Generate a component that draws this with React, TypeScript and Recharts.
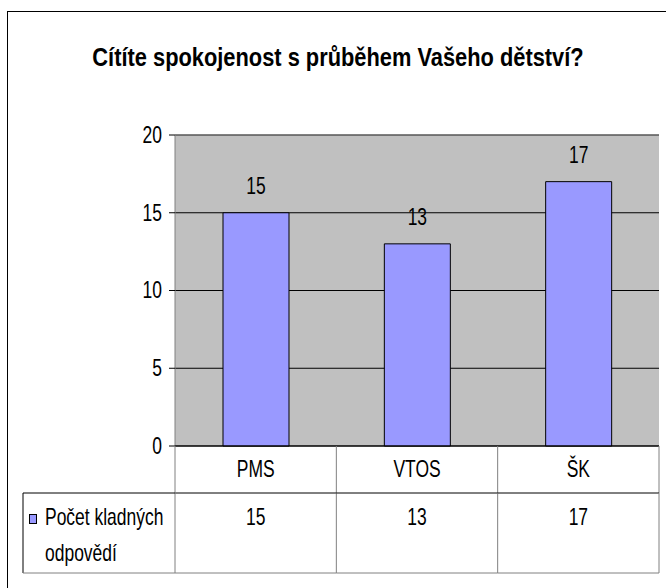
import React from 'react';
import { BarChart, Bar, XAxis, YAxis, CartesianGrid, LabelList, ReferenceLine } from 'recharts';

const title = 'Cítíte spokojenost s průběhem Vašeho dětství?';
const categories = ['PMS', 'VTOS', 'ŠK'];
const values = [15, 13, 17];
const seriesName = ['Počet kladných', 'odpovědí'];
const yTicks = [0, 5, 10, 15, 20];

const data = categories.map((name, i) => ({ name, value: values[i] }));

// layout
const W = 666;
const H = 588;
const PLOT_LEFT = 175;
const PLOT_RIGHT = 659;
const PLOT_BOTTOM = 446;
const ROW1 = 493;
const ROW2 = 573;
const BAND = (PLOT_RIGHT - PLOT_LEFT) / categories.length;
const FONT = "'Liberation Sans', Arial, sans-serif";

const NText = ({ x, y, size = 23, sx = 0.76, anchor = 'middle', weight = 'normal', children }: any) => (
  <text
    transform={`translate(${x},${y}) scale(${sx},1)`}
    textAnchor={anchor}
    dominantBaseline="central"
    fontSize={size}
    fontWeight={weight}
    fontFamily={FONT}
    fill="#000"
  >
    {children}
  </text>
);

const YTick = (p: any) => <NText x={p.x} y={p.y} anchor="end">{p.payload.value}</NText>;

const CatTick = (p: any) => (
  <g>
    <NText x={p.x} y={(PLOT_BOTTOM + ROW1) / 2}>{p.payload.value}</NText>
    <line x1={p.x + BAND / 2} y1={PLOT_BOTTOM} x2={p.x + BAND / 2} y2={ROW1} stroke="#808080" />
  </g>
);

const ValTick = (p: any) => (
  <g>
    <line x1={p.x - BAND / 2} y1={ROW1} x2={p.x + BAND / 2} y2={ROW1} stroke="#000" />
    <line x1={p.x - BAND / 2} y1={ROW2} x2={p.x + BAND / 2} y2={ROW2} stroke="#808080" />
    <line x1={p.x + BAND / 2} y1={ROW1} x2={p.x + BAND / 2} y2={ROW2} stroke="#808080" />
    <NText x={p.x} y={517}>{data[p.index].value}</NText>
  </g>
);

const BarLabel = (p: any) => <NText x={p.x + p.width / 2} y={p.y - 27}>{p.value}</NText>;

export default function App() {
  return (
    <div style={{ position: 'absolute', left: 0, top: 0, width: W, height: H, overflow: 'hidden', background: '#fff' }}>
      <div style={{ position: 'absolute', left: 7, top: 11, width: 700, height: 620, border: '1px solid #000' }} />
      <BarChart
        width={W}
        height={H}
        data={data}
        margin={{ top: 135, right: 7, left: 135, bottom: 15 }}
        style={{ position: 'absolute', left: 0, top: 0 }}
      >
        <CartesianGrid vertical={false} fill="#C0C0C0" fillOpacity={1} stroke="#000" />
        <YAxis
          domain={[0, 20]}
          ticks={yTicks}
          width={40}
          axisLine={{ stroke: '#808080' }}
          tickLine={{ stroke: '#000' }}
          tickSize={6}
          tickMargin={7}
          tick={YTick}
        />
        <YAxis
          yAxisId="right"
          orientation="right"
          domain={[0, 20]}
          width={0}
          tick={false}
          tickLine={false}
          axisLine={{ stroke: '#808080' }}
        />
        <XAxis xAxisId="cat" dataKey="name" height={47} tickLine={false} axisLine={{ stroke: '#000' }} tick={CatTick} />
        <XAxis xAxisId="val" dataKey="name" height={80} tickLine={false} axisLine={false} tick={ValTick} />
        <ReferenceLine y={20} xAxisId="cat" stroke="#808080" />
        <Bar
          xAxisId="cat"
          dataKey="value"
          fill="#9999FF"
          stroke="#000"
          strokeWidth={1}
          barSize={66}
          isAnimationActive={false}
        >
          <LabelList dataKey="value" content={BarLabel} />
        </Bar>
      </BarChart>
      <svg width={W} height={H} style={{ position: 'absolute', left: 0, top: 0, pointerEvents: 'none' }}>
        <NText x={338} y={57} size={26} sx={0.84} weight="bold">{title}</NText>
        <line x1={PLOT_LEFT} y1={PLOT_BOTTOM} x2={PLOT_LEFT} y2={ROW2} stroke="#808080" />
        <line x1={23} y1={ROW1} x2={PLOT_LEFT} y2={ROW1} stroke="#000" />
        <line x1={23} y1={ROW1} x2={23} y2={ROW2} stroke="#000" />
        <line x1={23} y1={ROW2} x2={PLOT_LEFT} y2={ROW2} stroke="#808080" />
        <rect x={29.5} y={514.5} width={7} height={9} fill="#9999FF" stroke="#000" />
        <NText x={45} y={517} anchor="start">{seriesName[0]}</NText>
        <NText x={45} y={553} anchor="start">{seriesName[1]}</NText>
      </svg>
    </div>
  );
}
